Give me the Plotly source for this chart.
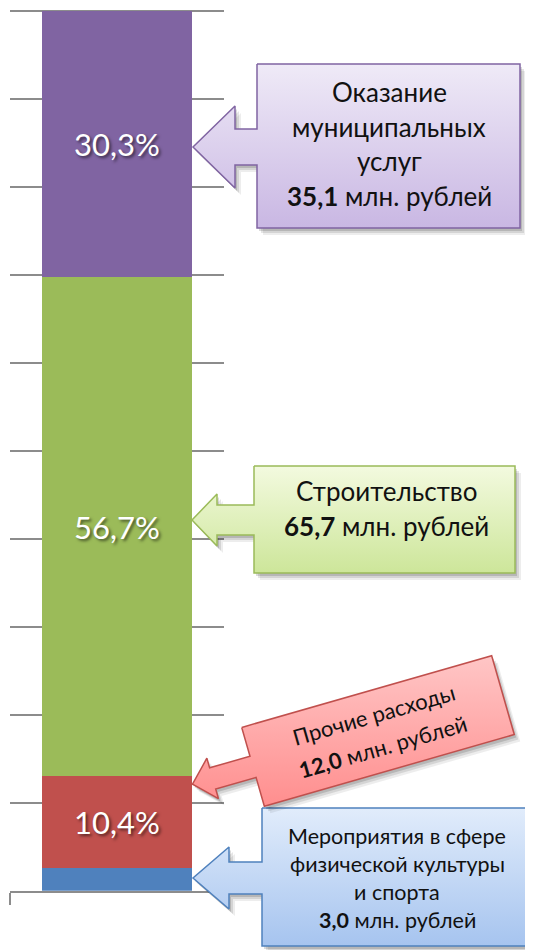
import numpy as np
import plotly.graph_objects as go

# data: one stacked column, bottom to top
categories = ["Мероприятия в сфере физической культуры и спорта",
              "Прочие расходы",
              "Строительство",
              "Оказание муниципальных услуг"]
amounts = [3.0, 12.0, 65.7, 35.1]      # млн. рублей
shares = [2.6, 10.4, 56.7, 30.3]       # %
bar_colors = ["#4f81bd", "#c0504d", "#9bbb59", "#8064a2"]
show_share = [False, True, True, True]

W, H = 533, 950
OFF = 8  # page body margin
FONT = "Lato, 'Open Sans', sans-serif"

# plot area in page pixels (0..100 %), top padded a little so the 100 % grid line shows
PL, PR, PB = 10, 224, 890.7
PX_PER_PCT = 8.8
YMAX = 100.3
PT = PB - YMAX * PX_PER_PCT


def money(v):
    return f"<b>{v:.1f}</b>".replace(".", ",") + " млн. рублей"


def arrow_box(x0, y0, x1, y1, tx, ty, hx, hh, sh):
    # rectangle with a left pointing arrow, pixel coords
    xs = [x0, x1, x1, x0, x0, hx, hx, tx, hx, hx, x0, x0]
    ys = [y0, y0, y1, y1, ty + sh, ty + sh, ty + hh, ty, ty - hh, ty - sh, ty - sh, y0]
    return np.array(xs, dtype=float), np.array(ys, dtype=float)


def rotate(xs, ys, cx, cy, deg):
    a = np.radians(deg)
    x = cx + xs * np.cos(a) + ys * np.sin(a)
    y = cy - xs * np.sin(a) + ys * np.cos(a)
    return x, y


fig = go.Figure()

for name, sh, col, show in zip(categories, shares, bar_colors, show_share):
    fig.add_trace(go.Bar(
        x=["Расходы"], y=[sh], name=name, marker=dict(color=col, line=dict(width=0)),
        width=0.7,
        texttemplate="%{y:.1f}%" if show else "",
        textposition="inside", insidetextanchor="middle",
        textfont=dict(family=FONT, size=31, color="white",
                      shadow="2px 2px 3px rgba(0,0,0,0.55)"),
        hoverinfo="skip",
    ))


def add_callout(xs, ys, line_col, top_col, bot_col):
    for off, alpha in [(6, 0.07), (4, 0.1), (2, 0.14)]:
        fig.add_trace(go.Scatter(
            x=xs + off, y=ys + off + 1, xaxis="x2", yaxis="y2", mode="lines",
            line=dict(width=0, color="rgba(0,0,0,0)"), fill="toself",
            fillcolor=f"rgba(0,0,0,{alpha})", hoverinfo="skip"))
    fig.add_trace(go.Scatter(
        x=xs, y=ys, xaxis="x2", yaxis="y2", mode="lines",
        line=dict(width=1.5, color=line_col), fill="toself",
        fillgradient=dict(type="vertical", colorscale=[[0, bot_col], [1, top_col]]),
        hoverinfo="skip"))


# purple: Оказание муниципальных услуг
xs, ys = arrow_box(257, 64, 520, 228, 193, 147, 235, 41, 18)
add_callout(xs, ys, "#8064a2", "#efeaf7", "#c9b7e3")
# green: Строительство
xs, ys = arrow_box(254, 466, 515, 573, 192, 520, 217, 26, 15)
add_callout(xs, ys, "#9bbb59", "#f3fadf", "#cde69a")
# blue: физкультура и спорт
xs, ys = arrow_box(262, 808, 533, 946, 193, 878, 229, 31, 16)
add_callout(xs, ys, "#4f81bd", "#e1ecfb", "#a6c4ef")
# red: прочие расходы, rotated box
lx, ly = arrow_box(-130, -41, 130, 41, -193, 0, -172, 21, 11)
xs, ys = rotate(lx, ly, 378, 731, 16)
add_callout(xs, ys, "#c0504d", "#ffc6c6", "#ff8e8e")


def label(x, y, text, size, angle=0):
    fig.add_annotation(x=x, y=y, xref="x2", yref="y2", text=text, showarrow=False,
                       textangle=angle, xanchor="center", yanchor="middle",
                       font=dict(family=FONT, size=size, color="#111111"))


for y, t in zip([92, 126.5, 161, 195.5], ["Оказание", "муниципальных", "услуг", money(amounts[3])]):
    label(389, y, t, 26)
for y, t in zip([490.5, 525.5], ["Строительство", money(amounts[2])]):
    label(386, y, t, 26)
for y, t in zip([836, 864, 892, 920], ["Мероприятия в сфере", "физической культуры",
                                       "и спорта", money(amounts[0])]):
    label(397, y, t, 21.5)
for v, t in zip([-17, 16], ["Прочие расходы", money(amounts[1])]):
    x, y = rotate(np.array([0.0]), np.array([float(v)]), 379, 731, 16)
    label(x[0], y[0], t, 22, angle=-16)

fig.update_layout(
    width=W, height=H, margin=dict(l=0, r=0, t=0, b=0),
    paper_bgcolor="white", plot_bgcolor="rgba(0,0,0,0)",
    barmode="stack", bargap=0.3, showlegend=False, hovermode=False,
    separators=", ",
    xaxis=dict(domain=[(PL - OFF) / W, (PR - OFF) / W], showticklabels=False, showgrid=False,
               showline=True, linecolor="#8c8c8c", linewidth=2,
               ticks="outside", tickson="boundaries", ticklen=12,
               tickcolor="#8c8c8c", tickwidth=2, fixedrange=True),
    yaxis=dict(domain=[(H - PB + OFF) / H, (H - PT + OFF) / H], range=[0, YMAX], dtick=10,
               showticklabels=False, showgrid=True, gridcolor="#8c8c8c", gridwidth=2,
               zeroline=False, showline=False, fixedrange=True),
    xaxis2=dict(domain=[0, 1], range=[OFF, W + OFF], visible=False, anchor="y2",
                fixedrange=True),
    yaxis2=dict(domain=[0, 1], range=[H + OFF, OFF], visible=False, anchor="x2",
                fixedrange=True),
)

fig.write_html("out.html")
